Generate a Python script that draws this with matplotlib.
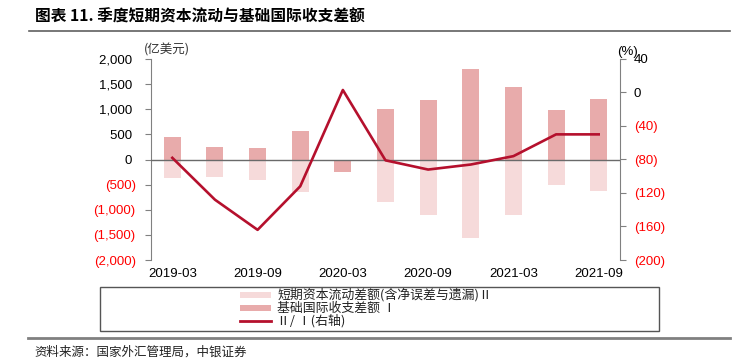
import matplotlib
matplotlib.use('Agg')
import matplotlib.pyplot as plt
import numpy as np
from matplotlib.lines import Line2D
from matplotlib.patches import Rectangle

plt.rcParams['font.family'] = ['Liberation Sans', 'Noto Sans CJK SC', 'DejaVu Sans']

quarters = ['2019-03', '2019-06', '2019-09', '2019-12', '2020-03', '2020-06',
            '2020-09', '2020-12', '2021-03', '2021-06', '2021-09']
basic_balance = [450, 250, 220, 570, -250, 1010, 1180, 1800, 1440, 990, 1210]
short_term_flow = [-360, -350, -400, -650, -8, -850, -1100, -1570, -1110, -500, -620]
ratio_pct = [-78, -128, -164, -112, 3, -81, -92, -86, -76, -50, -50]
left_ticks = [2000, 1500, 1000, 500, 0, -500, -1000, -1500, -2000]
right_ticks = [40, 0, -40, -80, -120, -160, -200]

W, H = 738, 364
fig = plt.figure(figsize=(W / 100, H / 100), dpi=100)


def fx(px):
    return px / W


def fy(py):
    return 1 - py / H


LIGHT = '#F6DADA'
DARK = '#E8ABAB'
LINE = '#B5102D'
GRAY = '#808080'
RED = '#FF0000'

ax = fig.add_axes([fx(151), fy(260), fx(620) - fx(151), fy(59) - fy(260)])
x = np.arange(len(quarters))
ax.bar(x, short_term_flow, width=0.4, color=LIGHT, zorder=2)
ax.bar(x, basic_balance, width=0.4, color=DARK, zorder=3)
ax.axhline(0, color='#6a6a6a', lw=1, zorder=4)
ax.set_xlim(-0.5, len(quarters) - 0.5)
ax.set_ylim(-2000, 2000)
ax.set_yticks(left_ticks)
ax.set_yticklabels([f"{v:,} " if v >= 0 else f"({-v:,})" for v in left_ticks])
for lbl, v in zip(ax.get_yticklabels(), left_ticks):
    lbl.set_color('black' if v >= 0 else RED)
ax.set_xticks(x[::2])
ax.set_xticklabels([quarters[i] for i in x[::2]])
ax.tick_params(axis='x', length=0, pad=6, labelsize=9.5)
ax.tick_params(axis='y', direction='out', length=4, color=GRAY, pad=7, labelsize=9.5)
for s in ['top', 'bottom', 'right']:
    ax.spines[s].set_visible(False)
ax.spines['left'].set_color(GRAY)

ax2 = ax.twinx()
ax2.plot(x, ratio_pct, color=LINE, lw=1.9, zorder=5)
ax2.set_ylim(-200, 40)
ax2.set_yticks(right_ticks)
ax2.set_yticklabels([f"{v}" if v >= 0 else f"({-v})" for v in right_ticks])
for lbl, v in zip(ax2.get_yticklabels(), right_ticks):
    lbl.set_color('black' if v >= 0 else RED)
ax2.tick_params(axis='y', direction='out', length=4, color=GRAY, pad=6, labelsize=9.5)
for s in ['top', 'bottom', 'left']:
    ax2.spines[s].set_visible(False)
ax2.spines['right'].set_color(GRAY)

# Title and decorations
fig.text(fx(35), fy(17), '图表 11. 季度短期资本流动与基础国际收支差额', fontsize=11.3,
         fontweight='bold', va='center', ha='left', family=['Noto Sans CJK SC'])
fig.add_artist(Line2D([fx(29), fx(730)], [fy(31), fy(31)], color='#606060', lw=1.2))
fig.text(fx(167), fy(50), '(亿美元)', fontsize=9, ha='center', va='center',
         color='#333333', family=['Noto Sans CJK SC'])
fig.text(fx(627), fy(52), '(%)', fontsize=9.5, ha='center', va='center')

# Legend (manual)
fig.add_artist(Rectangle((fx(100), fy(331)), fx(659) - fx(100), fy(287) - fy(331),
                         fill=False, edgecolor='#555555', lw=1))
rows = [295, 308, 321]
labels = ['短期资本流动差额(含净误差与遗漏)Ⅱ', '基础国际收支差额 Ⅰ', 'Ⅱ/ Ⅰ(右轴)']
fig.add_artist(Rectangle((fx(240), fy(rows[0] + 3.3)), fx(271) - fx(240), 6.6 / H,
                         color=LIGHT, lw=0))
fig.add_artist(Rectangle((fx(240), fy(rows[1] + 3.3)), fx(271) - fx(240), 6.6 / H,
                         color=DARK, lw=0))
fig.add_artist(Line2D([fx(240), fx(271)], [fy(rows[2]), fy(rows[2])], color=LINE, lw=2))
for r, t in zip(rows, labels):
    fig.text(fx(277), fy(r), t, fontsize=9.3, ha='left', va='center',
             color='#222222', family=['Noto Sans CJK SC'])

fig.add_artist(Line2D([fx(28), fx(730)], [fy(338), fy(338)], color=GRAY, lw=2))
fig.text(fx(34), fy(352), '资料来源：国家外汇管理局，中银证券', fontsize=9, ha='left',
         va='center', color='#222222', family=['Noto Sans CJK SC'])

fig.savefig('out.png', dpi=100)
